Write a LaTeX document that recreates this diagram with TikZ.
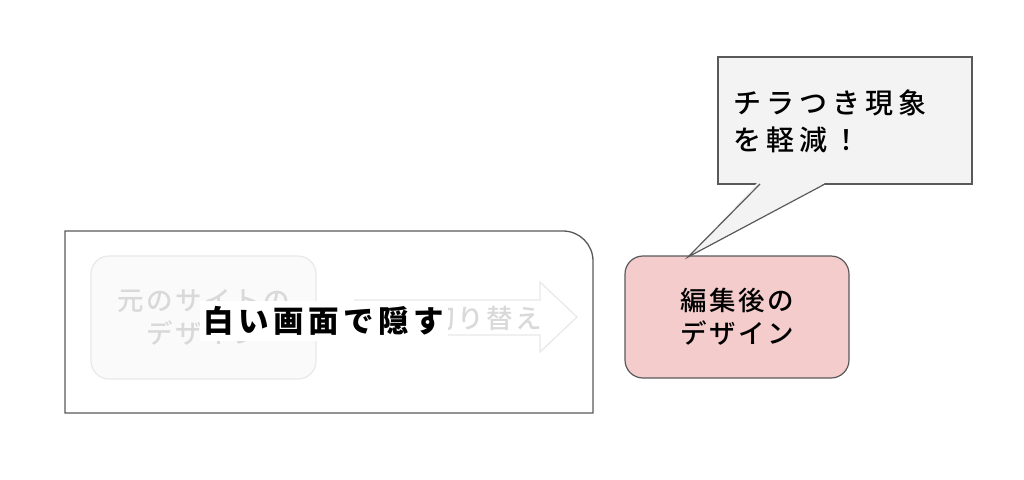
\documentclass[tikz,border=0pt]{standalone}
\usepackage{fontspec}
\IfFontExistsTF{Noto Sans CJK JP Medium}{%
  \newcommand{\jpmed}{Noto Sans CJK JP Medium}\newcommand{\jpfb}{}}{%
  \newcommand{\jpmed}{Noto Sans CJK JP}\newcommand{\jpfb}{\bfseries}}
\newfontfamily\jp[LetterSpace=10]{\jpmed}
\newfontfamily\jpc[LetterSpace=18]{\jpmed}
\newfontfamily\jpl[LetterSpace=15]{Noto Sans CJK JP}
\definecolor{frame}{HTML}{595959}
\definecolor{pinkfill}{HTML}{F4CCCC}
\definecolor{callfill}{HTML}{F3F3F3}
\definecolor{fadetext}{HTML}{D9D9D9}
\definecolor{fadeline}{HTML}{E8E8E8}
\tikzset{
  every node/.style={inner sep=0pt, outer sep=0pt},
  jtext/.style={font=\jp\jpfb\fontsize{26.5}{33}\selectfont, align=center},
  fadetxt/.style={font=\jp\jpfb\fontsize{26.5}{33}\selectfont, align=center, text=fadetext},
  pinkbox/.style={draw=frame, line width=1.2pt, fill=pinkfill, rounded corners=18pt},
  fadebox/.style={draw=fadeline, line width=1.2pt, fill=white!98!black, rounded corners=18pt},
}
\begin{document}
\begin{tikzpicture}[x=1pt,y=-1pt]
\useasboundingbox (0,0) rectangle (1024,479);
% big frame
\draw[frame, line width=1.3pt] (65,413) -- (65,231) [rounded corners=30pt]-- (593,231) [sharp corners]-- (593,413) -- cycle;
% faded original box
\node[fadebox, minimum width=225pt, minimum height=123pt] (orig) at (203.5,317.5) {};
\node[fadetxt] (origt) at (orig.center) {元のサイトの\\デザイン};
% faded arrow
\draw[fadeline, line width=1.2pt, fill=white] (355,300) -- (540,300) -- (540,282) -- (577,317) -- (540,352) -- (540,335) -- (355,335) -- cycle;
\node[fadetxt, anchor=east] (sw) at (542,318) {切り替え};
% white cover label
\node[fill=white, font=\jpl\bfseries\fontsize{30.5}{34}\selectfont, inner xsep=4pt, inner ysep=5pt] (hide) at (324,321) {白い画面で隠す};
% pink box
\node[pinkbox, minimum width=224pt, minimum height=122pt] (new) at (737,317) {};
\node[jtext, text=black] (newt) at (new.center) {編集後の\\デザイン};
% callout
\node[draw=frame, line width=1.2pt, fill=callfill, minimum width=254pt, minimum height=127pt] (call) at (845,120.5) {};
\coordinate (tip) at (688,257);
\fill[callfill] (758,182) -- (tip) -- (827,182) -- cycle;
\draw[frame, line width=1.2pt] (760,184) -- (tip) -- (825,184);
\node[font=\jpc\jpfb\fontsize{28}{37}\selectfont, align=left, anchor=west] (callt) at (733,121.5) {チラつき現象\\を軽減！};
\end{tikzpicture}
\end{document}
